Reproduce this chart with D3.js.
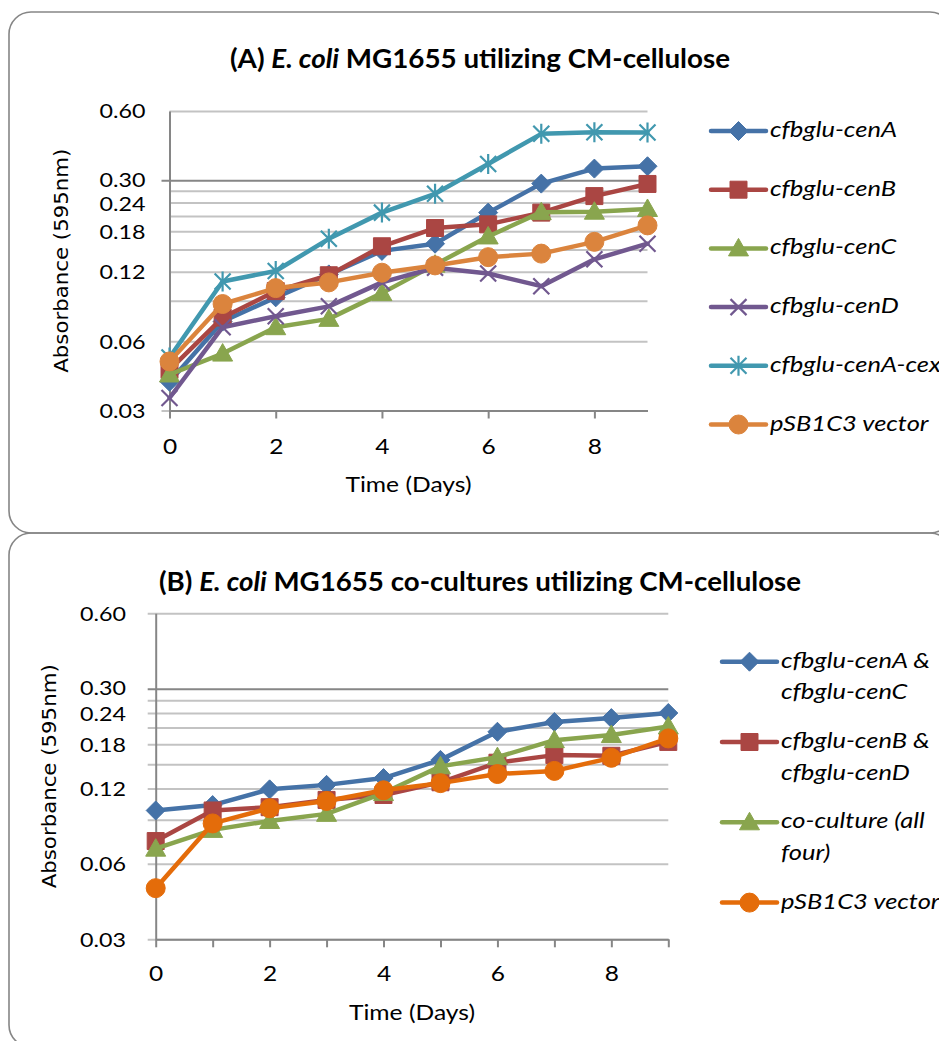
<!DOCTYPE html>
<html><head><meta charset="utf-8">
<script src="https://cdn.jsdelivr.net/npm/d3@7"></script>
<style>body{margin:0;background:#fff}svg{display:block}</style>
</head><body><svg id="c" width="939" height="1041"></svg>
<script>
// ---------------- data ----------------
const days = [0,1,2,3,4,5,6,7,8,9];
// Panel A
const cenA    = [0.040,0.073,0.093,0.117,0.148,0.159,0.217,0.290,0.337,0.345];
const cenB    = [0.045,0.076,0.099,0.116,0.155,0.186,0.193,0.217,0.256,0.289];
const cenC    = [0.043,0.053,0.069,0.075,0.097,0.129,0.171,0.218,0.219,0.225];
const cenD    = [0.034,0.069,0.077,0.085,0.108,0.125,0.118,0.104,0.136,0.159];
const cenAcex = [0.051,0.109,0.121,0.167,0.217,0.262,0.353,0.477,0.485,0.483];
const vecA    = [0.049,0.087,0.102,0.108,0.119,0.128,0.139,0.144,0.162,0.191];
const namesA  = ["cfbglu-cenA","cfbglu-cenB","cfbglu-cenC","cfbglu-cenD","cfbglu-cenA-cex","pSB1C3 vector"];
// Panel B
const coAC    = [0.098,0.103,0.119,0.124,0.132,0.156,0.202,0.221,0.229,0.240];
const coBD    = [0.074,0.098,0.101,0.108,0.113,0.127,0.152,0.163,0.162,0.184];
const coAll   = [0.069,0.082,0.089,0.095,0.115,0.147,0.160,0.187,0.196,0.212];
const vecB    = [0.048,0.087,0.100,0.107,0.118,0.126,0.137,0.141,0.159,0.190];
const namesB  = [["cfbglu-cenA &","cfbglu-cenC"],["cfbglu-cenB &","cfbglu-cenD"],["co-culture (all","four)"],["pSB1C3 vector"]];
// axes
const yGridValues  = [0.03,0.06,0.09,0.12,0.15,0.18,0.21,0.24,0.27,0.30,0.60];
const yMajorValues = [0.03,0.30];
const yLabelValues = [0.03,0.06,0.12,0.18,0.24,0.30,0.60];
const xLabelValues = [0,2,4,6,8];
const xTicksA = [0,2,4,6,8];
const xTicksB = [0,1,2,3,4,5,6,7,8,9];
const yLabel = "Absorbance (595nm)";
const xLabel = "Time (Days)";

// ---------------- styles ----------------
const colorsA  = ["#4572A7","#AA4643","#89A54E","#71588F","#4198AF","#DB843D"];
const markersA = ["diamond","square","triangle","x","star","circle"];
const colorsB  = ["#4572A7","#AA4643","#89A54E","#E46C0A"];
const markersB = ["diamond","square","triangle","circle"];
const AXIS = "#868686", GRID = "#C3C3C3";

const svg = d3.select("#c");

function markerPath(type){
  const p = d3.path();
  if(type==="diamond"){ p.moveTo(0,-9.5);p.lineTo(9.5,0);p.lineTo(0,9.5);p.lineTo(-9.5,0);p.closePath(); }
  else if(type==="square"){ p.rect(-8.5,-8.5,17,17); }
  else if(type==="triangle"){ p.moveTo(0,-10);p.lineTo(10,7.5);p.lineTo(-10,7.5);p.closePath(); }
  else if(type==="circle"){ p.arc(0,0,9.5,0,2*Math.PI); }
  else if(type==="x"){ p.moveTo(-8,-8);p.lineTo(8,8);p.moveTo(-8,8);p.lineTo(8,-8); }
  else if(type==="star"){ p.moveTo(-8,-8);p.lineTo(8,8);p.moveTo(-8,8);p.lineTo(8,-8);p.moveTo(0,-10);p.lineTo(0,10); }
  return p.toString();
}
function drawMarker(g, type, color, cx, cy){
  const open = (type==="x"||type==="star");
  g.append("path").attr("d", markerPath(type))
    .attr("transform",`translate(${cx},${cy})`)
    .attr("fill", open? "none" : color)
    .attr("stroke", color)
    .attr("stroke-width", open? 2.2 : 1)
    .attr("stroke-linecap","butt");
}
function stretch(sel, k){
  sel.each(function(){
    const w = this.getComputedTextLength();
    this.setAttribute("textLength", (w*k).toFixed(2));
    this.setAttribute("lengthAdjust","spacingAndGlyphs");
  });
}

// frames
svg.append("rect").attr("x",9).attr("y",12).attr("width",943).attr("height",521).attr("rx",22)
  .attr("fill","none").attr("stroke",AXIS).attr("stroke-width",1.6);
svg.append("rect").attr("x",9).attr("y",533).attr("width",943).attr("height",514).attr("rx",22)
  .attr("fill","none").attr("stroke",AXIS).attr("stroke-width",1.6);

const measureSvg = d3.select(document.body).append("svg").attr("width",0).attr("height",0);
function natural(text, font, size, style){
  const t = measureSvg.append("text").attr("font-family",font).attr("font-size",size)
    .attr("font-style",style||"normal").text(text);
  const w = t.node().getComputedTextLength(); t.remove(); return w;
}

function panel(cfg){
  const g = svg.append("g");
  const x = d3.scaleLinear().domain([0,9]).range([cfg.x0,cfg.x1]);
  const y = d3.scaleLog().domain([0.03,0.6]).range([cfg.yBot,cfg.yTop]);
  const w = cfg.x1-cfg.x0;

  // grid
  const grid = g.append("g").attr("transform",`translate(${cfg.x0},0)`)
    .call(d3.axisLeft(y).tickValues(yGridValues).tickSizeInner(-w).tickSizeOuter(0).tickFormat(""));
  grid.select(".domain").remove();
  grid.selectAll(".tick line")
    .attr("stroke", d => Math.abs(d-0.30)<1e-9 ? AXIS : GRID)
    .attr("stroke-width", 2)
    .attr("x1", d => (cfg.allYTicks || yMajorValues.some(v=>Math.abs(v-d)<1e-9)) ? -8 : 0);

  // x axis
  const xa = g.append("g").attr("transform",`translate(0,${cfg.yBot})`)
    .call(d3.axisBottom(x).tickValues(cfg.xTicks).tickSizeInner(8).tickSizeOuter(0).tickFormat(""));
  xa.selectAll("line,path").attr("stroke",AXIS).attr("stroke-width",2);
  // y axis line
  const ya = g.append("g").attr("transform",`translate(${cfg.x0},0)`)
    .call(d3.axisLeft(y).tickValues([]).tickSizeOuter(0));
  ya.select(".domain").attr("stroke",AXIS).attr("stroke-width",2);

  // tick labels
  const FS = 19.5;
  const k = 46 / natural("0.60","Lato",FS);
  const yl = g.append("g").attr("transform",`translate(${cfg.labelRight},0)`)
    .call(d3.axisLeft(y).tickValues(yLabelValues).tickSize(0).tickPadding(0).tickFormat(d3.format(".2f")));
  yl.select(".domain").remove();
  yl.selectAll("text").attr("font-family","Lato").attr("font-size",FS).attr("fill","#000")
    .attr("x",0).attr("dy","0.36em").attr("text-anchor","end")
    .attr("y", d => Math.abs(d-0.30)<1e-9 ? -1 : (Math.abs(d-0.24)<1e-9 ? 0.5 : 0));
  const xl = g.append("g").attr("transform",`translate(0,${cfg.xLabelBase})`)
    .call(d3.axisBottom(x).tickValues(xLabelValues).tickSize(0).tickPadding(0).tickFormat(d3.format("d")));
  xl.select(".domain").remove();
  xl.selectAll("text").attr("font-family","Lato").attr("font-size",FS+1).attr("fill","#000")
    .attr("y",0).attr("dy",0);
  stretch(yl.selectAll("text"),k);
  stretch(xl.selectAll("text"),k);

  // axis titles
  g.append("text").attr("transform",`translate(${cfg.yTitleX},${(cfg.yTop+cfg.yBot)/2}) rotate(-90)`)
    .attr("text-anchor","middle").attr("font-family","DejaVu Sans").attr("font-size",19)
    .attr("textLength",224).attr("lengthAdjust","spacingAndGlyphs").text(yLabel);
  g.append("text").attr("x",(cfg.x0+cfg.x1)/2).attr("y",cfg.xTitleBase)
    .attr("text-anchor","middle").attr("font-family","Lato").attr("font-size",22)
    .attr("textLength",126).attr("lengthAdjust","spacingAndGlyphs").text(xLabel);

  // title
  const t = g.append("text").attr("x",480).attr("y",cfg.titleBase).attr("text-anchor","middle")
    .attr("font-family","Lato").attr("font-weight","bold").attr("font-size",27.5)
    .attr("textLength",cfg.titleW).attr("lengthAdjust","spacingAndGlyphs");
  t.append("tspan").text(cfg.titleParts[0]+" ");
  t.append("tspan").attr("font-style","italic").text(cfg.titleParts[1]);
  t.append("tspan").text(" "+cfg.titleParts[2]);

  // series
  const line = d3.line().x((d,i)=>x(days[i])).y(d=>y(d));
  cfg.series.forEach((s,si)=>{
    const col = cfg.colors[si];
    g.append("path").datum(s).attr("d",line).attr("fill","none").attr("stroke",col)
      .attr("stroke-width",4.5).attr("stroke-linejoin","round").attr("stroke-linecap","round");
    const mg = g.append("g");
    s.forEach((v,i)=> drawMarker(mg, cfg.markers[si], col, x(days[i]), y(v)));
  });

  // legend
  const lg = g.append("g");
  const kL = 127 / natural("cfbglu-cenA","Lato",20.5,"italic");
  cfg.names.forEach((nm,i)=>{
    const cy = cfg.legTop + i*cfg.legStep;
    const col = cfg.colors[i];
    lg.append("line").attr("x1",cfg.legX0).attr("x2",cfg.legX0+55).attr("y1",cy).attr("y2",cy)
      .attr("stroke",col).attr("stroke-width",4.5).attr("stroke-linecap","round");
    drawMarker(lg, cfg.markers[i], col, cfg.legX0+27.5, cy);
    const lines = Array.isArray(nm)? nm : [nm];
    lines.forEach((ln,j)=>{
      const tt = lg.append("text").attr("x",cfg.legX0+59).attr("y",cy+6+j*31.6)
        .attr("font-family","Lato").attr("font-style","italic").attr("font-size",20.5).attr("fill","#000").text(ln);
      stretch(tt,kL);
    });
  });
}

panel({
  x0:169.5, x1:647.5, yTop:110.9, yBot:410.5, xTicks:xTicksA, allYTicks:false,
  labelRight:145.5, xLabelBase:454, yTitleX:68, xTitleBase:492,
  titleBase:67.5, titleW:500, titleParts:["(A)","E. coli","MG1655 utilizing CM-cellulose"],
  series:[cenA,cenB,cenC,cenD,cenAcex,vecA], colors:colorsA, markers:markersA, names:namesA,
  legTop:131, legStep:58.7, legX0:711
});
panel({
  x0:155.7, x1:668.3, yTop:613.3, yBot:939.3, xTicks:xTicksB, allYTicks:true,
  labelRight:126, xLabelBase:981, yTitleX:56, xTitleBase:1020,
  titleBase:590.5, titleW:642, titleParts:["(B)","E. coli","MG1655 co-cultures utilizing CM-cellulose"],
  series:[coAC,coBD,coAll,vecB], colors:colorsB, markers:markersB, names:namesB,
  legTop:661.7, legStep:80.3, legX0:722
});
measureSvg.remove();
</script>
</body></html>
